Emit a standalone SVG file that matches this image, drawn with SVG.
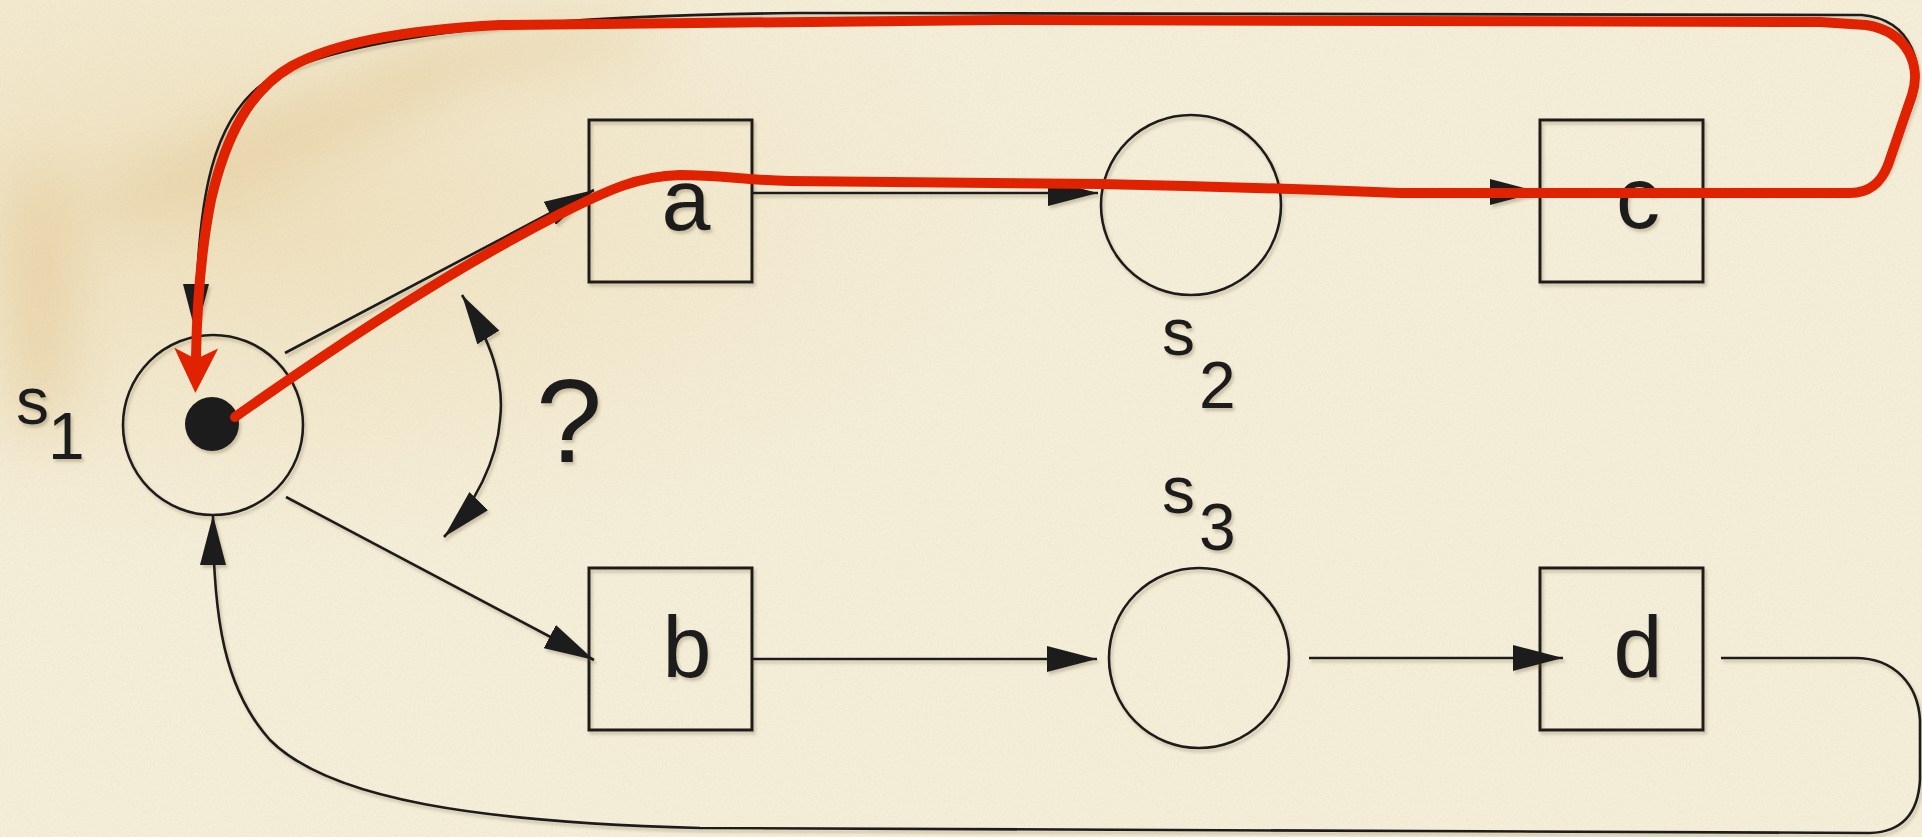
<svg xmlns="http://www.w3.org/2000/svg" width="1922" height="837" viewBox="0 0 1922 837">
<defs>
<style>
.box{fill:none;stroke:#1e1c1c;stroke-width:3}
.st{fill:none;stroke:#1e1c1c;stroke-width:2.6}
.ln{fill:none;stroke:#1e1c1c;stroke-width:2.6}
.red{fill:none;stroke:#e02200;stroke-width:10;stroke-linecap:round;stroke-linejoin:round}
.lbl{font-family:"Liberation Sans",Arial,sans-serif;font-size:88px;fill:#1e1c1c}
.sl{font-family:"Liberation Sans",Arial,sans-serif;font-size:66px;fill:#1e1c1c}
</style>
<marker id="ah" markerUnits="userSpaceOnUse" markerWidth="52" markerHeight="26" refX="50" refY="13" orient="auto-start-reverse" viewBox="0 0 52 26">
<path d="M0,0 L50,13 L0,26 z" fill="#1e1c1c"/>
</marker>
<marker id="rh" markerUnits="userSpaceOnUse" markerWidth="46" markerHeight="46" refX="10" refY="23" orient="auto" viewBox="0 0 46 46">
<path d="M0,1 L45,23 L0,45 L11,23 z" fill="#e02200"/>
</marker>
<radialGradient id="stain" cx="0.12" cy="0.25" r="0.45">
<stop offset="0" stop-color="#e6cc95" stop-opacity="0.45"/>
<stop offset="0.6" stop-color="#ecd9ad" stop-opacity="0.2"/>
<stop offset="1" stop-color="#f5eed8" stop-opacity="0"/>
</radialGradient>
<filter id="blur" x="-50%" y="-50%" width="200%" height="200%">
<feGaussianBlur stdDeviation="28"/>
</filter>
<filter id="paper" x="0" y="0" width="100%" height="100%">
<feTurbulence type="fractalNoise" baseFrequency="0.5" numOctaves="2" seed="3" result="n"/>
<feColorMatrix in="n" type="matrix" values="0 0 0 0 0.6  0 0 0 0 0.55  0 0 0 0 0.42  0 0 0 -1.4 0.9" result="c"/>
<feComposite in="c" in2="SourceGraphic" operator="in"/>
</filter>
<filter id="sh" x="-5%" y="-5%" width="110%" height="110%">
<feDropShadow dx="2" dy="3" stdDeviation="1.5" flood-color="#6b5a3a" flood-opacity="0.3"/>
</filter>
</defs>
<rect width="1922" height="837" fill="#f5eed8"/>
<rect width="1922" height="837" fill="url(#stain)"/>
<g filter="url(#blur)" opacity="0.35">
<ellipse cx="300" cy="130" rx="230" ry="22" fill="#d9b06a" transform="rotate(-22 300 130)"/>
<ellipse cx="40" cy="300" rx="30" ry="140" fill="#d9b06a"/>
<ellipse cx="520" cy="50" rx="140" ry="18" fill="#d9b06a" transform="rotate(-8 520 50)"/>
</g>
<rect width="1922" height="837" fill="#fff" opacity="0.18" filter="url(#paper)"/>

<g id="nodes" filter="url(#sh)">
<g id="s1">
<circle class="st" cx="213" cy="425" r="90"/>
<circle cx="212" cy="424" r="27" fill="#1e1c1c"/>
<text class="sl" x="16" y="424">s</text>
<text class="sl" x="48" y="459">1</text>
</g>
<g id="a">
<rect class="box" x="589" y="120" width="163" height="162"/>
<text class="lbl" x="686" y="230" text-anchor="middle">a</text>
</g>
<g id="b">
<rect class="box" x="589" y="568" width="163" height="162"/>
<text class="lbl" x="687" y="677" text-anchor="middle">b</text>
</g>
<g id="c">
<rect class="box" x="1540" y="120" width="163" height="162"/>
<text class="lbl" x="1638" y="228" text-anchor="middle">c</text>
</g>
<g id="d">
<rect class="box" x="1540" y="568" width="163" height="162"/>
<text class="lbl" x="1638" y="677" text-anchor="middle">d</text>
</g>
<g id="s2">
<circle class="st" cx="1191" cy="205" r="90"/>
<text class="sl" x="1162" y="355">s</text>
<text class="sl" x="1199" y="408">2</text>
</g>
<g id="s3">
<circle class="st" cx="1199" cy="658" r="90"/>
<text class="sl" x="1162" y="513">s</text>
<text class="sl" x="1199" y="550">3</text>
</g>
<g id="question">
<text class="lbl" x="569" y="462" text-anchor="middle" style="font-size:119px">?</text>
</g>
</g>

<g id="connectors" filter="url(#sh)">
<path class="ln" d="M285,353 L594,190" marker-end="url(#ah)"/>
<path class="ln" d="M286,497 L594,660" marker-end="url(#ah)"/>
<path class="ln" d="M752,193 L1098,193" marker-end="url(#ah)"/>
<path class="ln" d="M1281,192 L1540,192" marker-end="url(#ah)"/>
<path class="ln" d="M752,659 L1097,659" marker-end="url(#ah)"/>
<path class="ln" d="M1309,658 L1563,658" marker-end="url(#ah)"/>
<path class="ln" d="M1721,658 L1855,658 C1895,658 1918,685 1920,720 L1920,780 C1918,815 1900,832 1870,833 L700,828 C480,822 330,800 270,740 C225,690 213,620 213,515" marker-end="url(#ah)"/>
<path class="ln" d="M1703,192 L1850,192 C1872,192 1884,182 1892,160 L1914,100 C1924,70 1915,20 1862,15 L800,13 C500,16 330,40 265,82 C215,118 196,190 196,334" marker-end="url(#ah)"/>
<path class="ln" d="M462,295 C490,340 505,380 500,420 C497,460 475,505 444,537" marker-start="url(#ah)" marker-end="url(#ah)"/>
</g>

<g id="red-path">
<path class="red" d="M235,417 C330,350 450,270 560,214 C608,190 638,176 680,175 C722,175 742,180 790,181 L1100,184 C1200,186 1300,189 1400,193 L1850,193 C1872,193 1882,180 1888,165 L1912,95 C1921,68 1910,32 1866,25 L1820,22 L1000,20 L500,25 C400,30 332,44 292,66 C250,90 226,135 211,200 C201,250 197,300 196,358" marker-end="url(#rh)"/>
</g>
</svg>
